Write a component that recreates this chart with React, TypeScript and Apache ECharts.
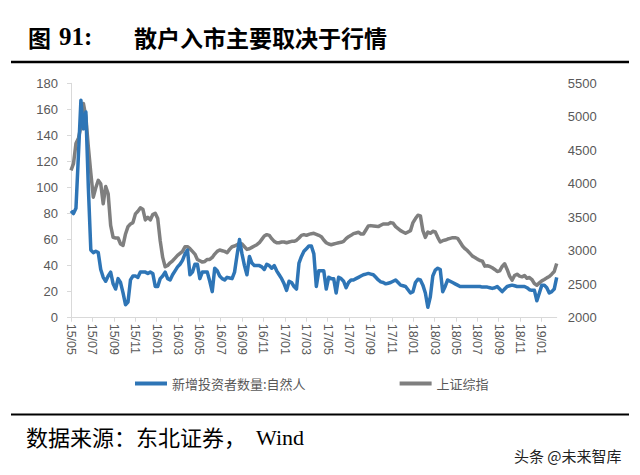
import React, { useEffect, useRef } from 'react';
import * as echarts from 'echarts';

const tickLabels = [
  '15/05', '15/07', '15/09', '15/11', '16/01', '16/03', '16/05', '16/07', '16/09', '16/11',
  '17/01', '17/03', '17/05', '17/07', '17/09', '17/11', '18/01', '18/03', '18/05', '18/07',
  '18/09', '18/11', '19/01',
];

// weekly values, 新增投资者数量:自然人 (万人)
const newInvestors = [
  82, 80, 84, 125, 167, 145, 158, 100,
  52, 50, 51, 50, 37, 31, 28, 32,
  35, 26, 22, 30, 27, 19, 10, 12,
  29, 32, 32, 31, 35, 35, 35, 34,
  35, 34, 24, 24, 30, 32, 35, 30,
  29, 33, 36, 39, 41, 44, 49, 52,
  33, 35, 41, 41, 30, 35, 35, 35,
  28, 20, 38, 36, 32, 30, 29, 31,
  30.5, 30, 35, 48, 60, 49, 40, 33,
  47, 42, 40, 40, 40, 39, 37, 41,
  40, 38, 40, 36, 33, 30, 26, 21,
  28, 27, 24, 22, 42, 47, 51, 53,
  55, 55, 49, 24, 36, 36, 36, 22,
  31, 30, 30, 19, 31, 30, 28, 23,
  27, 29, 29, 30, 31, 32, 33, 33.5,
  34, 33.5, 33, 31, 29, 27.5, 27, 26,
  26.5, 27, 28, 29, 27, 25, 24.5, 24,
  21.5, 19, 20, 27, 29.5, 29, 25, 19,
  8, 16, 32, 36.5, 38, 37, 20, 24,
  29, 28, 27, 26, 25, 24, 24, 24,
  24, 24, 24, 24, 24, 24, 23.5, 23.5,
  23.5, 23, 22.5, 23, 24, 22, 20, 22,
  24, 24.5, 25, 24.5, 24, 24, 24, 24,
  23, 21.5, 21, 21, 13, 19, 25, 25,
  23, 19, 20, 22, 31,
];

// weekly values, 上证综指
const shIndex = [
  4200, 4300, 4600, 4680, 4850, 5200, 5000, 4550,
  4160, 3800, 3940, 4050, 4000, 3700, 3960, 3850,
  3380, 3200, 3190, 3190, 3100, 3080, 3250, 3360,
  3400, 3420, 3550, 3590, 3640, 3620, 3460, 3500,
  3460, 3540, 3560, 3480, 3150, 2900, 2760, 2780,
  2820, 2850, 2890, 2930, 2960, 2990, 3060, 3060,
  3030, 2990, 2950, 2870, 2850, 2830, 2840, 2870,
  2870, 2900, 2950, 2990, 3010, 3000, 2990, 2970,
  3020, 3060, 3070, 3090, 3110, 3100, 3060, 3020,
  3030, 3050, 3070, 3090, 3120, 3170, 3220, 3240,
  3230, 3180, 3140, 3120, 3120, 3130, 3130, 3120,
  3130, 3140, 3140, 3155, 3190, 3230, 3240, 3230,
  3245, 3255, 3260, 3245, 3230, 3210, 3160, 3120,
  3100, 3090, 3100, 3110, 3120, 3125, 3140, 3180,
  3210, 3230, 3255, 3265, 3275, 3250, 3250, 3310,
  3370, 3375, 3370, 3365, 3360, 3380, 3400, 3400,
  3400, 3420, 3410, 3360, 3330, 3300, 3280, 3260,
  3280, 3300, 3420, 3480, 3530, 3520, 3300, 3200,
  3280, 3260, 3290, 3280, 3200, 3130, 3150, 3160,
  3175, 3185, 3195, 3195, 3185, 3130, 3070, 3030,
  3000, 2960, 2920, 2900, 2875, 2855, 2845, 2770,
  2775, 2765, 2745, 2720, 2690, 2700, 2765, 2805,
  2720, 2620, 2560, 2630, 2650, 2620, 2610, 2630,
  2590, 2600, 2570, 2510, 2485, 2520, 2550, 2570,
  2595, 2615, 2650, 2690, 2810,
];

const seriesNames = ['新增投资者数量:自然人', '上证综指'];
const TICK_STEP = 8.63; // weeks between two-month labels

const CJK = '"Noto Sans CJK SC", sans-serif';
const SANS = '"Liberation Sans", Arial, sans-serif';
const SERIF = '"Liberation Serif", "Times New Roman", serif';

export default function App() {
  const ref = useRef<HTMLDivElement>(null);

  useEffect(() => {
    if (!ref.current) return;
    const chart = echarts.init(ref.current, null, { renderer: 'svg' });
    const tickValues = tickLabels.map((_, k) => Number((k * TICK_STEP).toFixed(2)));
    const labelFor = (v: number) => {
      const k = Math.round(v / TICK_STEP);
      if (Math.abs(v - k * TICK_STEP) < 0.05 && k < tickLabels.length) return tickLabels[k];
      return '';
    };

    chart.setOption({
      animation: false,
      backgroundColor: '#ffffff',
      grid: { left: 71, right: 83.3, top: 83.3, bottom: 157.3 },
      legend: {
        left: 135,
        top: 377,
        padding: 0,
        icon: 'rect',
        itemWidth: 32,
        itemHeight: 4,
        itemGap: 94,
        data: seriesNames,
        textStyle: { color: '#595959', fontSize: 13, fontFamily: CJK },
      },
      xAxis: {
        type: 'value',
        min: 0,
        max: newInvestors.length - 1,
        interval: TICK_STEP,
        axisLine: { show: true, lineStyle: { color: '#d9d9d9', width: 1 } },
        axisTick: { show: true, length: 4, lineStyle: { color: '#d9d9d9' }, customValues: tickValues },
        axisLabel: {
          customValues: tickValues,
          rotate: -90,
          margin: 6,
          color: '#595959',
          fontSize: 12.5,
          fontFamily: SANS,
          formatter: (v: number) => labelFor(v),
        },
        splitLine: { show: false },
      },
      yAxis: [
        {
          type: 'value',
          position: 'left',
          min: 0,
          max: 180,
          interval: 20,
          axisLine: { show: true, lineStyle: { color: '#d9d9d9' } },
          axisTick: { show: true, length: 4, lineStyle: { color: '#d9d9d9' } },
          axisLabel: { color: '#595959', fontSize: 13, margin: 13, fontFamily: SANS, formatter: (v: number) => String(v) },
          splitLine: { show: false },
        },
        {
          type: 'value',
          position: 'right',
          min: 2000,
          max: 5500,
          interval: 500,
          axisLine: { show: false },
          axisTick: { show: false },
          axisLabel: { color: '#595959', fontSize: 13, margin: 11, fontFamily: SANS, formatter: (v: number) => String(v) },
          splitLine: { show: false },
        },
      ],
      series: [
        {
          name: seriesNames[0],
          type: 'line',
          yAxisIndex: 0,
          data: newInvestors.map((v, i) => [i, v]),
          symbol: 'none',
          showSymbol: false,
          lineStyle: { color: '#2E75B6', width: 3.5, join: 'round' },
          itemStyle: { color: '#2E75B6' },
          z: 3,
        },
        {
          name: seriesNames[1],
          type: 'line',
          yAxisIndex: 1,
          data: shIndex.map((v, i) => [i, v]),
          symbol: 'none',
          showSymbol: false,
          lineStyle: { color: '#7F7F7F', width: 3.5, join: 'round' },
          itemStyle: { color: '#7F7F7F' },
          z: 2,
        },
      ],
      graphic: [
        {
          type: 'text', left: 28, top: 25,
          style: { text: '图', fill: '#000', font: `bold 23px ${CJK}` },
        },
        {
          type: 'text', left: 59, top: 24,
          style: { text: '91:', fill: '#000', font: `bold 25px ${SERIF}` },
        },
        {
          type: 'text', left: 134, top: 25,
          style: { text: '散户入市主要取决于行情', fill: '#000', font: `bold 23px ${CJK}` },
        },
        {
          type: 'line',
          shape: { x1: 11, y1: 62, x2: 629, y2: 62 },
          style: { stroke: '#000', lineWidth: 2.5 },
        },
        {
          type: 'line',
          shape: { x1: 11, y1: 414.5, x2: 629, y2: 414.5 },
          style: { stroke: '#000', lineWidth: 2 },
        },
        {
          type: 'text', left: 26, top: 425,
          style: { text: '数据来源：东北证券，', fill: '#000', font: `22px ${CJK}` },
        },
        {
          type: 'text', left: 256, top: 426,
          style: { text: 'Wind', fill: '#000', font: `22px ${SERIF}` },
        },
        {
          type: 'text', left: 514, top: 448,
          style: { text: '头条 @未来智库', fill: '#222', font: `15px ${CJK}` },
        },
      ],
    });

    return () => chart.dispose();
  }, []);

  return (
    <div
      ref={ref}
      style={{ position: 'absolute', left: 0, top: 0, width: 640, height: 475, background: '#fff' }}
    />
  );
}
